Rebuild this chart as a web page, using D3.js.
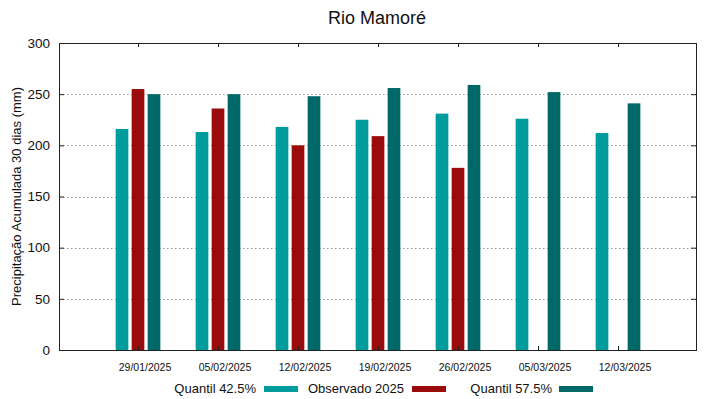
<!DOCTYPE html>
<html>
<head>
<meta charset="utf-8">
<script src="https://cdn.jsdelivr.net/npm/d3@7"></script>
<style>
  body { margin: 0; background: #fff; }
  svg { display: block; font-family: "Liberation Sans", Arial, sans-serif; }
</style>
</head>
<body>
<div id="chart"></div>
<script>
// data
const dates = ["29/01/2025", "05/02/2025", "12/02/2025", "19/02/2025", "26/02/2025", "05/03/2025", "12/03/2025"];
const q425 = [216, 213, 218, 225, 231, 226, 212];
const obs2025 = [255, 236, 200, 209, 178, null, null];
const q575 = [250, 250, 248, 256, 259, 252, 241];
const yTicks = [0, 50, 100, 150, 200, 250, 300];

const series = [
    { name: "Quantil 42.5%", values: q425, color: "#009b9b", offset: -1 },
    { name: "Observado 2025", values: obs2025, color: "#9a0c0c", offset: 0 },
    { name: "Quantil 57.5%", values: q575, color: "#006868", offset: 1 }
];

const W = 719, H = 399;
const margin = { top: 43, right: 23, bottom: 49, left: 59 };
const width = W - margin.left - margin.right,
    height = H - margin.top - margin.bottom;

const svg = d3.select("#chart")
    .append("svg")
    .attr("width", W)
    .attr("height", H);

const g = svg.append("g")
    .attr("transform", "translate(" + margin.left + "," + margin.top + ")");

// one unit = one week group
const x = d3.scaleLinear().domain([-0.9875, 6.975]).range([0, width]);
const y = d3.scaleLinear().domain([0, 300]).range([height, 0]);
const barW = 12.7, step = 16;

// grid
g.selectAll(".grid")
    .data(yTicks.filter(d => d > 0 && d < 300))
    .enter()
    .append("line")
    .attr("x1", 0)
    .attr("x2", width)
    .attr("y1", d => Math.round(y(d)) + 0.5)
    .attr("y2", d => Math.round(y(d)) + 0.5)
    .style("stroke", "#999")
    .style("stroke-width", 1)
    .style("stroke-dasharray", "1.5,2.5");

// bars
series.forEach(function (s) {
    g.selectAll(".bar" + s.offset)
        .data(s.values.map((v, i) => ({ i: i, v: v })).filter(d => d.v != null))
        .enter()
        .append("rect")
        .attr("x", d => x(d.i) + s.offset * step - barW / 2)
        .attr("y", d => y(d.v))
        .attr("width", barW)
        .attr("height", d => height - y(d.v))
        .style("fill", s.color);
});

// axes
const yAxis = g.append("g")
    .call(d3.axisLeft(y).tickValues(yTicks).tickSize(-5).tickPadding(9));
yAxis.selectAll("text").style("font-size", "13.5px").style("fill", "#111");

g.append("g")
    .attr("transform", `translate(${width},0)`)
    .call(d3.axisRight(y).tickValues(yTicks).tickSize(-5).tickFormat(""));

const xAxis = g.append("g")
    .attr("transform", `translate(0,${height})`)
    .call(d3.axisBottom(x).tickValues(d3.range(dates.length)).tickSize(-4).tickPadding(14)
        .tickFormat((d, i) => dates[i]));
xAxis.selectAll("text")
    .attr("dx", 6.5)
    .style("font-size", "10.5px")
    .style("fill", "#111");

g.append("g")
    .call(d3.axisTop(x).tickValues(d3.range(dates.length)).tickSize(-4).tickFormat(""));

g.selectAll(".domain").remove();
g.selectAll(".tick line").style("stroke", "#222");

g.append("rect")
    .attr("x", 0.5)
    .attr("y", 0.5)
    .attr("width", width)
    .attr("height", height)
    .style("fill", "none")
    .style("stroke", "#222")
    .style("stroke-width", 1);

// title and labels
svg.append("text")
    .text("Rio Mamoré")
    .attr("x", 377)
    .attr("y", 24)
    .style("text-anchor", "middle")
    .style("font-size", "18px")
    .style("fill", "#111");

svg.append("text")
    .text("Precipitação Acumulada 30 dias (mm)")
    .attr("transform", "translate(21," + (margin.top + height / 2) + ") rotate(-90)")
    .style("text-anchor", "middle")
    .style("font-size", "13px")
    .style("fill", "#111");

// legend
const legendPos = [
    { textEnd: 256, sw: 264 },
    { textEnd: 404, sw: 412 },
    { textEnd: 552, sw: 559 }
];
series.forEach(function (s, i) {
    svg.append("text")
        .text(s.name)
        .attr("x", legendPos[i].textEnd)
        .attr("y", 393)
        .style("text-anchor", "end")
        .style("font-size", "13px")
        .style("fill", "#111");
    svg.append("rect")
        .attr("x", legendPos[i].sw)
        .attr("y", 386)
        .attr("width", 34)
        .attr("height", 6)
        .style("fill", s.color);
});
</script>
</body>
</html>
